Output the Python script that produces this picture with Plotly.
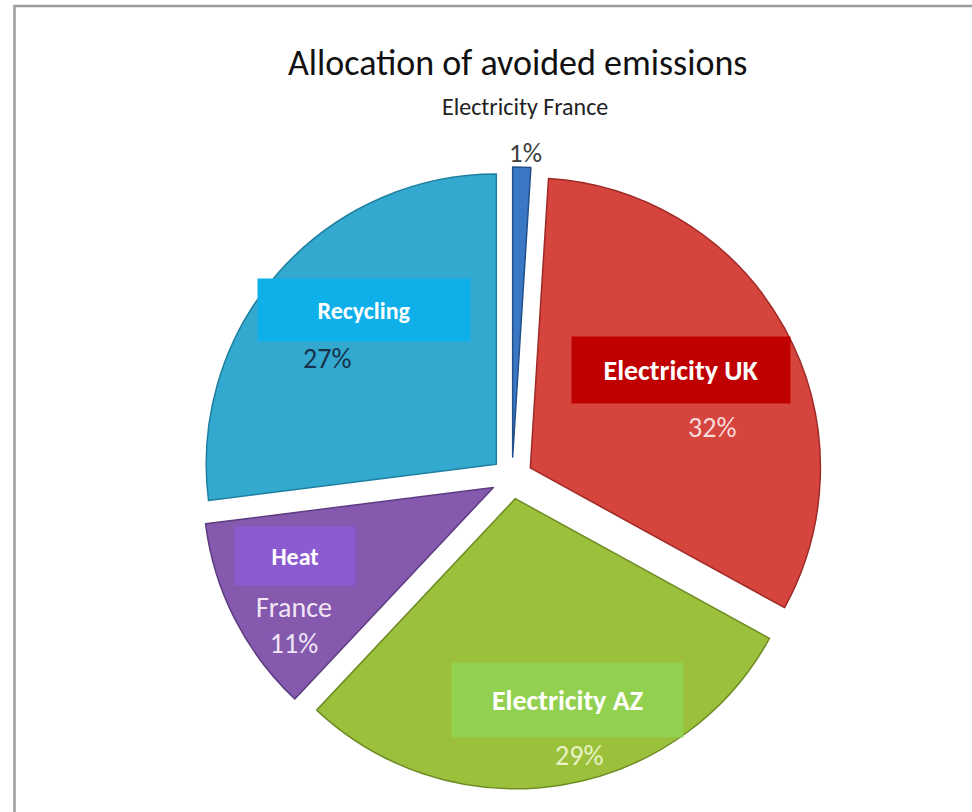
import plotly.graph_objects as go

# ---------------- data ----------------
categories = ["Electricity France", "Electricity UK", "Electricity AZ", "Heat France", "Recycling"]
values = [1, 32, 29, 11, 27]
title_text = "Allocation of avoided emissions"
subtitle_text = "Electricity France"

# ---------------- styles ----------------
W, H = 972, 812
slice_colors = ["#3a77c4", "#d6443e", "#9bc13c", "#8459ae", "#34a9d0"]
edge_colors = ["#24508a", "#9e2a26", "#6e8c24", "#5d3c80", "#1f7fa0"]
pull_frac = 0.072
pie_center = (512, 478)   # px
pie_outer = 311           # px (radius * (1+pull))

FONT = "Carlito, Calibri, Lato, sans-serif"

label_style = {
    "Electricity France": dict(box=None, pct_xy=(525, 152), pct_color="#404040", pct_size=27),
    "Electricity UK": dict(box=dict(words=2, xy=(681, 370), size=(218, 66), color="#c00000", fs=28),
                           pct_xy=(712, 427), pct_color="#f8dcdc", pct_size=28),
    "Electricity AZ": dict(box=dict(words=2, xy=(567, 700), size=(231, 74), color="#92d050", fs=28),
                           pct_xy=(579, 755), pct_color="#e8f3c4", pct_size=28),
    "Heat France": dict(box=dict(words=1, xy=(295, 556), size=(120, 58), color="#8d5bd0", fs=24),
                        pct_xy=(294, 625), pct_color="#f2e6f6", pct_size=28),
    "Recycling": dict(box=dict(words=1, xy=(364, 310), size=(212, 62), color="#0fb0ea", fs=24),
                      pct_xy=(327, 358), pct_color="#17324a", pct_size=28),
}


def px(x, y):
    """window pixel -> paper coordinate"""
    return x / W, 1 - y / H


cx, cy = pie_center
x0, y1 = px(cx - pie_outer, cy - pie_outer)
x1, y0 = px(cx + pie_outer, cy + pie_outer)
fig = go.Figure(
    go.Pie(
        labels=categories,
        values=values,
        sort=False,
        direction="clockwise",
        rotation=0,
        pull=[pull_frac] * len(values),
        textinfo="none",
        hoverinfo="label+percent",
        marker=dict(colors=slice_colors, line=dict(color=edge_colors, width=1.5)),
        domain=dict(x=[x0, x1], y=[y0, y1]),
        showlegend=False,
    )
)

annotations = []
tx, ty = px(517, 63)
annotations.append(dict(text=title_text, x=tx, y=ty, xref="paper", yref="paper", showarrow=False,
                        xanchor="center", yanchor="middle",
                        font=dict(family=FONT, size=36, color="#111111")))
sx, sy = px(525, 106)
annotations.append(dict(text=subtitle_text, x=sx, y=sy, xref="paper", yref="paper", showarrow=False,
                        xanchor="center", yanchor="middle",
                        font=dict(family=FONT, size=24, color="#222222")))

total = sum(values)
for cat, val in zip(categories, values):
    st = label_style[cat]
    pct = f"{round(100 * val / total)}%"
    words = cat.split(" ")
    rest = []
    if st["box"] is not None:
        b = st["box"]
        box_txt = " ".join(words[: b["words"]])
        rest = words[b["words"]:]
        bx, by = px(*b["xy"])
        annotations.append(dict(text=f"<b>{box_txt}</b>", x=bx, y=by, xref="paper", yref="paper",
                                showarrow=False, xanchor="center", yanchor="middle",
                                width=b["size"][0], height=b["size"][1], bgcolor=b["color"],
                                borderpad=0, align="center", valign="middle",
                                font=dict(family=FONT, size=b["fs"], color="#ffffff")))
    ptxt = "<br>".join([" ".join(rest), pct]) if rest else pct
    qx, qy = px(*st["pct_xy"])
    annotations.append(dict(text=ptxt, x=qx, y=qy, xref="paper", yref="paper", showarrow=False,
                            xanchor="center", yanchor="middle", align="center",
                            font=dict(family=FONT, size=st["pct_size"], color=st["pct_color"])))

fx0, fy1 = px(14.5, 6)
fig.update_layout(
    width=W, height=H,
    margin=dict(l=0, r=0, t=0, b=0),
    paper_bgcolor="#ffffff",
    plot_bgcolor="#ffffff",
    annotations=annotations,
    shapes=[dict(type="rect", xref="paper", yref="paper",
                 x0=fx0, x1=1.05, y0=-0.05, y1=fy1,
                 line=dict(color="#9c9c9c", width=2.5), fillcolor="rgba(0,0,0,0)", layer="below")],
)

fig.write_html("out.html", config={"displayModeBar": False},
               post_script="document.body.style.margin='0px';")
